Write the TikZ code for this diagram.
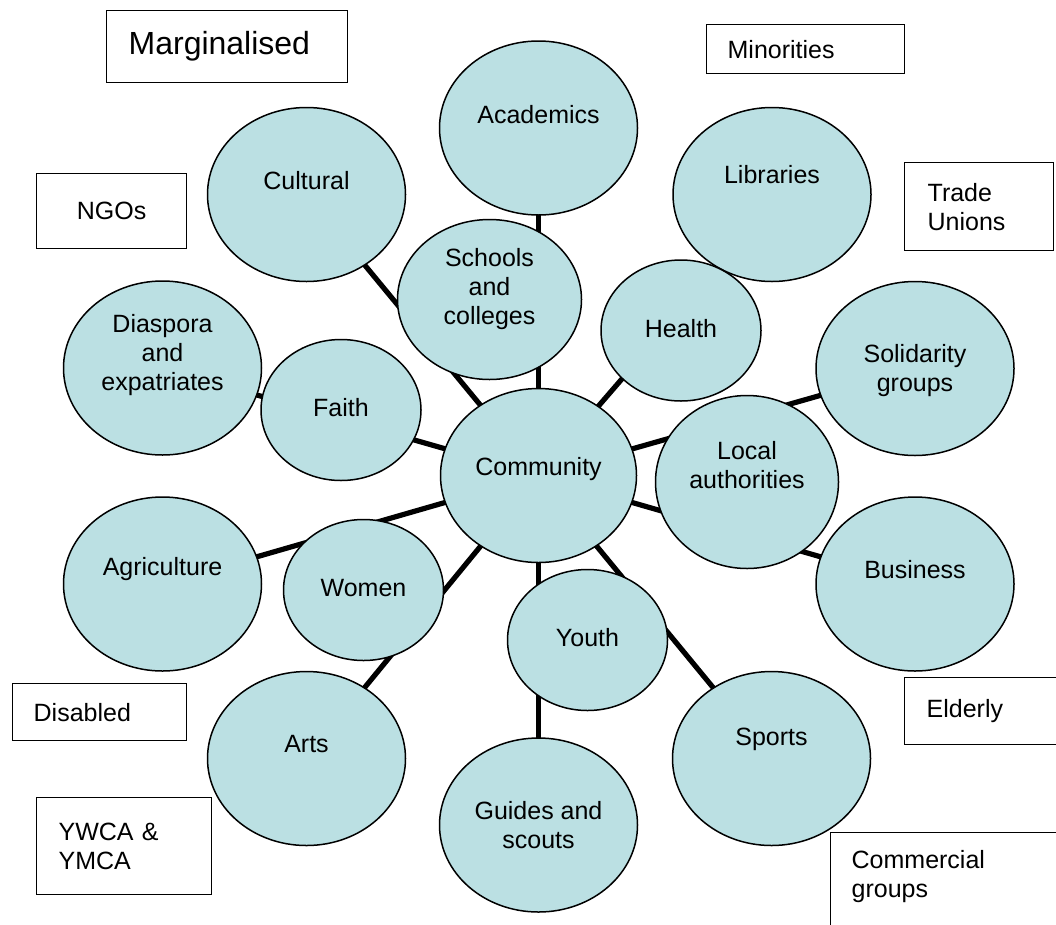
\documentclass[tikz,border=0pt]{standalone}
\usepackage{fontspec}
\setmainfont{Liberation Sans}
\usetikzlibrary{shapes.geometric,backgrounds,calc}
\definecolor{bubfill}{RGB}{187,224,227}
\newcommand{\bubfont}{\fontsize{25pt}{29pt}\selectfont}
\newcommand{\margfont}{\fontsize{32pt}{38pt}\selectfont}
\tikzset{
    bub/.style={ellipse,draw,line width=1.5pt,fill=bubfill,inner sep=0pt},
    big/.style={minimum width=198pt,minimum height=174pt},
    small/.style={minimum width=160pt,minimum height=141pt},
    txt/.style={align=center,font=\bubfont,inner sep=0pt},
    lbox/.style={draw,line width=1.3pt,rectangle,anchor=north west,align=left,inner xsep=21pt,inner ysep=0pt,font=\bubfont},
    link/.style={line width=5.2pt}
}

\begin{document}
\begin{tikzpicture}[x=1pt,y=-1pt]
    \useasboundingbox (0,0) rectangle (1056,924);
    \clip (0,0) rectangle (1056,924);

    % bubbles
    \node[bub,big,label={[txt,yshift=13pt]center:Academics}] (aca) at (538.5,128) {};
    \node[bub,big,label={[txt,yshift=13.5pt]center:Cultural}] (cul) at (306.5,194.5) {};
    \node[bub,big,label={[txt,yshift=20pt]center:Libraries}] (lib) at (772,194.5) {};
    \node[bub,minimum width=184pt,minimum height=160pt,label={[txt,yshift=10pt]center:{Schools\\and\\colleges}}] (sch) at (489.5,299.5) {};
    \node[bub,small,label={[txt,yshift=1.5pt]center:Health}] (hea) at (681,330.5) {};
    \node[bub,big,label={[txt,yshift=-2pt]center:{Solidarity\\groups}}] (sol) at (915,368.5) {};
    \node[bub,big,label={[txt,yshift=13pt]center:{Diaspora\\and\\expatriates}}] (dia) at (162.5,368) {};
    \node[bub,small,label={[txt,yshift=2pt]center:Faith}] (fai) at (341,410) {};
    \node[bub,minimum width=196pt,minimum height=174pt,label={[txt,yshift=6.5pt]center:Community}] (com) at (538.5,475.5) {};
    \node[bub,minimum width=183pt,minimum height=173pt,label={[txt,yshift=17pt]center:{Local\\authorities}}] (loc) at (747,482) {};
    \node[bub,big,label={[txt,yshift=14.5pt]center:Agriculture}] (agr) at (162.5,584) {};
    \node[bub,small,label={[txt,yshift=2pt]center:Women}] (wom) at (363.5,590) {};
    \node[bub,big,label={[txt,yshift=14pt]center:Business}] (bus) at (915,584) {};
    \node[bub,small,label={[txt,yshift=2pt]center:Youth}] (you) at (587.5,640) {};
    \node[bub,big,label={[txt,yshift=14.5pt]center:Arts}] (art) at (306.5,758.5) {};
    \node[bub,big,label={[txt,yshift=19pt]center:Sports}] (spo) at (771.5,758.5) {};
    \node[bub,big,label={[txt,yshift=0pt]center:{Guides and\\scouts}}] (gui) at (538.5,825) {};

    % spokes, behind the bubbles
    \begin{pgfonlayer}{background}
        \path (aca.center) edge[link] (com.center);
        \path (cul.center) edge[link] (com.center);
        \path (dia.center) edge[link] (com.center);
        \path ($(hea.center)+(0,-20)$) edge[link] (com.center);
        \path (sol.center) edge[link] (com.center);
        \path (bus.center) edge[link] (com.center);
        \path (agr.center) edge[link] (com.center);
        \path (art.center) edge[link] (com.center);
        \path (gui.center) edge[link] (com.center);
        \path (spo.center) edge[link] (com.center);
    \end{pgfonlayer}

    % groups in boxes
    \node[lbox,minimum height=72pt,text width=197pt,inner xsep=22pt,font=\margfont] (marg) at (106,10) {Marginalised};
    \node[lbox,minimum height=75pt,text width=108pt,align=center] (ngo) at (36,173) {NGOs};
    \node[lbox,minimum height=49pt,text width=156pt] (mino) at (706,24) {Minorities};
    \node[lbox,minimum height=88pt,text width=103pt,inner xsep=23pt] (trade) at (904,162) {Trade\\Unions};
    \node[lbox,minimum height=57pt,text width=132pt] (disab) at (12,683) {Disabled};
    \node[lbox,minimum height=97pt,text width=131pt,inner xsep=22pt] (ywca) at (36,797) {YWCA \&\\YMCA};
    \node[lbox,minimum height=67pt,text width=126pt,inner xsep=22pt] (elder) at (904,677) {Elderly};
    \node[lbox,inner ysep=18pt,text width=198pt,text depth=60pt] (comm) at (830,832) {Commercial\\groups};
\end{tikzpicture}
\end{document}
